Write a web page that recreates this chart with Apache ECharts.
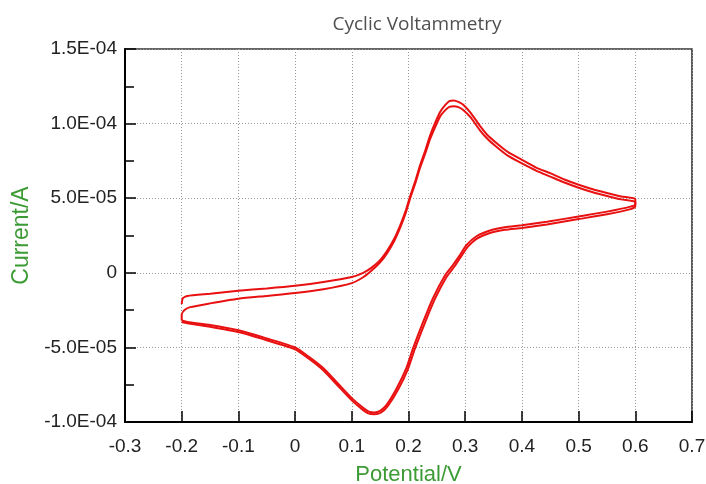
<!DOCTYPE html>
<html>
<head>
<meta charset="utf-8">
<script src="https://cdn.jsdelivr.net/npm/echarts@6/dist/echarts.min.js"></script>
<style>
html,body{margin:0;padding:0;background:#fff;}
#chart{width:706px;height:484px;}
</style>
</head>
<body>
<div id="chart"></div>
<script>
// ---- data (potential in V, current in A) ----
const cycle1Potential = [-0.2, -0.198, -0.19, -0.15, -0.1, -0.05, 0, 0.05, 0.1, 0.12, 0.135, 0.15, 0.162, 0.175, 0.185, 0.195, 0.203, 0.212, 0.22, 0.23, 0.238, 0.248, 0.256, 0.265, 0.272, 0.28, 0.288, 0.297, 0.31, 0.326, 0.34, 0.355, 0.375, 0.4, 0.425, 0.45, 0.475, 0.5, 0.525, 0.55, 0.575, 0.6,
  0.6, 0.59, 0.55, 0.5, 0.444, 0.4, 0.37, 0.345, 0.32, 0.302, 0.29, 0.278, 0.264, 0.243, 0.226, 0.208, 0.196, 0.179, 0.161, 0.15, 0.14, 0.13, 0.12, 0.1, 0.075, 0.05, 0.025, 0, -0.05, -0.1, -0.15, -0.19, -0.2];
const cycle1Current = [-2.1e-5, -1.7e-5, -1.55e-5, -1.4e-5, -1.2e-5, -1.05e-5, -0.87e-5, -0.62e-5, -0.28e-5, 0.0, 0.35e-5, 0.85e-5, 1.45e-5, 2.3e-5, 3.15e-5, 4.15e-5, 5.15e-5, 6.15e-5, 7.15e-5, 8.25e-5, 9.2e-5, 10.15e-5, 10.8e-5, 11.25e-5, 11.5e-5, 11.55e-5, 11.45e-5, 11.25e-5, 10.7e-5, 9.85e-5, 9.2e-5, 8.7e-5, 8.1e-5, 7.57e-5, 7.05e-5, 6.68e-5, 6.25e-5, 5.9e-5, 5.6e-5, 5.35e-5, 5.12e-5, 4.95e-5,
  4.6e-5, 4.42e-5, 4.1e-5, 3.78e-5, 3.42e-5, 3.18e-5, 3.05e-5, 2.85e-5, 2.45e-5, 1.85e-5, 1.15e-5, 0.5e-5, -0.2e-5, -1.72e-5, -3.28e-5, -5.07e-5, -6.41e-5, -7.75e-5, -8.87e-5, -9.25e-5, -9.36e-5, -9.3e-5, -9.05e-5, -8.4e-5, -7.4e-5, -6.4e-5, -5.65e-5, -5.0e-5, -4.4e-5, -3.85e-5, -3.5e-5, -3.3e-5, -3.2e-5];

const cycle2Potential = [-0.2, -0.2, -0.195, -0.185, -0.15, -0.1, -0.05, 0, 0.05, 0.1, 0.12, 0.135, 0.15, 0.162, 0.175, 0.185, 0.195, 0.203, 0.212, 0.22, 0.23, 0.238, 0.248, 0.256, 0.265, 0.272, 0.28, 0.288, 0.297, 0.31, 0.326, 0.34, 0.355, 0.375, 0.4, 0.425, 0.45, 0.475, 0.5, 0.525, 0.55, 0.575, 0.6,
  0.6, 0.59, 0.55, 0.5, 0.444, 0.4, 0.37, 0.345, 0.32, 0.304, 0.292, 0.281, 0.267, 0.246, 0.229, 0.211, 0.199, 0.182, 0.163, 0.151, 0.14, 0.129, 0.119, 0.1, 0.075, 0.05, 0.025, 0, -0.05, -0.1, -0.15, -0.19, -0.2];
const cycle2Current = [-3.2e-5, -2.8e-5, -2.5e-5, -2.3e-5, -2.05e-5, -1.74e-5, -1.55e-5, -1.36e-5, -1.1e-5, -0.69e-5, -0.3e-5, 0.15e-5, 0.7e-5, 1.3e-5, 2.15e-5, 3.0e-5, 4.0e-5, 5.0e-5, 6.0e-5, 7.0e-5, 8.05e-5, 8.95e-5, 9.85e-5, 10.5e-5, 10.9e-5, 11.12e-5, 11.17e-5, 11.1e-5, 10.9e-5, 10.4e-5, 9.55e-5, 8.95e-5, 8.45e-5, 7.85e-5, 7.33e-5, 6.85e-5, 6.45e-5, 6.05e-5, 5.7e-5, 5.4e-5, 5.15e-5, 4.92e-5, 4.75e-5,
  4.45e-5, 4.25e-5, 3.92e-5, 3.6e-5, 3.24e-5, 3.0e-5, 2.88e-5, 2.68e-5, 2.28e-5, 1.72e-5, 1.05e-5, 0.42e-5, -0.28e-5, -1.8e-5, -3.35e-5, -5.12e-5, -6.45e-5, -7.8e-5, -8.95e-5, -9.38e-5, -9.48e-5, -9.42e-5, -9.17e-5, -8.55e-5, -7.55e-5, -6.55e-5, -5.78e-5, -5.13e-5, -4.52e-5, -3.97e-5, -3.62e-5, -3.38e-5, -3.3e-5];

const yTickValues = [-1.0e-4, -5.0e-5, 0, 5.0e-5, 1.0e-4, 1.5e-4];
const yTickLabels = ['-1.0E-04', '-5.0E-05', '0', '5.0E-05', '1.0E-04', '1.5E-04'];

const titleText = 'Cyclic Voltammetry';
const xAxisName = 'Potential/V';
const yAxisName = 'Current/A';

function pairs(xs, ys) { return xs.map((x, i) => [x, ys[i]]); }

const chart = echarts.init(document.getElementById('chart'), null, {renderer: 'canvas'});
const lineColor = '#e81010';
const tickFont = {fontFamily: 'Liberation Sans, Arial, sans-serif', fontSize: 19, color: '#222'};

chart.setOption({
  animation: false,
  backgroundColor: '#fff',
  title: {
    text: titleText,
    left: 412,
    top: 10,
    textAlign: 'center',
    textStyle: {fontFamily: 'Open Sans', fontSize: 19, fontWeight: 'normal', color: '#505050'}
  },
  grid: {left: 125, right: 14, top: 49, bottom: 62, show: true, borderColor: '#333', borderWidth: 1.6, backgroundColor: 'transparent', containLabel: false, outerBoundsMode: 'none'},
  xAxis: {
    type: 'value', min: -0.3, max: 0.7, interval: 0.1,
    name: xAxisName, nameLocation: 'middle', nameGap: 42,
    nameTextStyle: {fontFamily: 'Liberation Sans, Arial, sans-serif', fontSize: 22, color: '#3d9b35'},
    axisLine: {show: true, onZero: false, lineStyle: {color: '#000', width: 2}},
    axisTick: {show: true, inside: true, length: 11, lineStyle: {color: '#000', width: 1.5}},
    axisLabel: Object.assign({margin: 15}, tickFont),
    splitLine: {show: true, lineStyle: {color: '#999', type: [1, 2], width: 1}}
  },
  yAxis: {
    type: 'value', min: -1.0e-4, max: 1.5e-4, interval: 5.0e-5,
    name: yAxisName, nameLocation: 'middle', nameGap: 87,
    nameTextStyle: {fontFamily: 'Liberation Sans, Arial, sans-serif', fontSize: 23, color: '#3d9b35'},
    axisLine: {show: true, onZero: false, lineStyle: {color: '#000', width: 2}},
    axisTick: {show: true, inside: true, length: 11, lineStyle: {color: '#000', width: 1.5}},
    minorTick: {show: true, splitNumber: 2, length: 9, lineStyle: {color: '#000', width: 1.5}},
    axisLabel: Object.assign({margin: 8, formatter: function (v) {
      const i = yTickValues.findIndex(t => Math.abs(t - v) < 1e-9);
      return i >= 0 ? yTickLabels[i] : '';
    }}, tickFont),
    splitLine: {show: true, lineStyle: {color: '#999', type: [1, 2], width: 1}}
  },
  series: [
    {name: 'Cycle 1', type: 'line', data: pairs(cycle1Potential, cycle1Current), showSymbol: false, symbol: 'none', smooth: 0.2, lineStyle: {color: lineColor, width: 2}, z: 3},
    {name: 'Cycle 2', type: 'line', data: pairs(cycle2Potential, cycle2Current), showSymbol: false, symbol: 'none', smooth: 0.2, lineStyle: {color: lineColor, width: 2}, z: 3}
  ]
});
</script>
</body>
</html>
